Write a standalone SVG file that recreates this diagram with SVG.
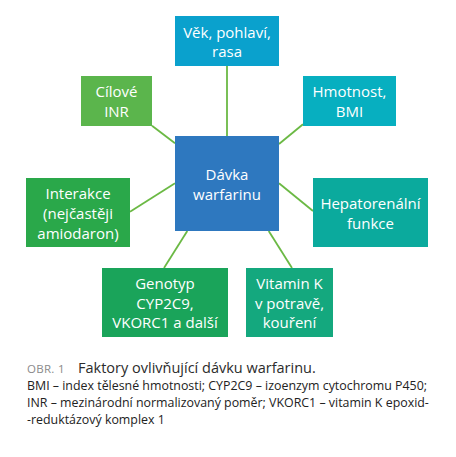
<svg xmlns="http://www.w3.org/2000/svg" width="456" height="457" viewBox="0 0 456 457">
<style>
.n text{font-family:"Open Sans","Noto Sans",sans-serif;font-size:15px;fill:#fff;text-anchor:middle}
.c line{stroke:#6bb944;stroke-width:1.8}
.cap{font-family:"Open Sans","Noto Sans",sans-serif}
</style>
<rect width="456" height="457" fill="#fff"/>
<g class="c" id="connectors">
<line x1="227" y1="66" x2="227" y2="136"/>
<line x1="152" y1="125.7" x2="175" y2="143.3"/>
<line x1="303" y1="124.3" x2="279" y2="144"/>
<line x1="130" y1="211.7" x2="175" y2="183.3"/>
<line x1="279" y1="183.3" x2="313" y2="211"/>
<line x1="187.3" y1="231" x2="164" y2="268"/>
<line x1="268.7" y1="231" x2="292" y2="268"/>
</g>
<g class="n" id="vek"><rect x="175" y="16" width="104" height="50" fill="#0aa1cd"/><text x="227" y="38">Věk, pohlaví,</text><text x="227" y="57">rasa</text></g>
<g class="n" id="cilove"><rect x="81" y="76" width="71" height="50" fill="#5bb54c"/><text x="116.5" y="97">Cílové</text><text x="116.5" y="117">INR</text></g>
<g class="n" id="hmotnost"><rect x="303" y="76" width="93" height="50" fill="#07afc0"/><text x="349.5" y="97">Hmotnost,</text><text x="349.5" y="117">BMI</text></g>
<g class="n" id="davka"><rect x="175" y="136" width="104" height="95" fill="#2e78bf"/><text x="227" y="180">Dávka</text><text x="227" y="199.5">warfarinu</text></g>
<g class="n" id="interakce"><rect x="26" y="178" width="104" height="69" fill="#2aa84a"/><text x="78" y="199">Interakce</text><text x="78" y="219">(nejčastěji</text><text x="78" y="239">amiodaron)</text></g>
<g class="n" id="hepato"><rect x="313" y="178" width="115" height="69" fill="#0baa9d"/><text x="370.5" y="209">Hepatorenální</text><text x="370.5" y="229">funkce</text></g>
<g class="n" id="genotyp"><rect x="102" y="268" width="126" height="69" fill="#1aa45a"/><text x="165" y="289">Genotyp</text><text x="165" y="309">CYP2C9,</text><text x="165" y="328">VKORC1 a další</text></g>
<g class="n" id="vitamin"><rect x="246" y="268" width="87" height="69" fill="#14a87e"/><text x="289.5" y="289">Vitamin K</text><text x="289.5" y="309">v potravě,</text><text x="289.5" y="328">kouření</text></g>
<g class="cap">
<text x="27" y="373" font-size="11.5" fill="#8a8a8a" letter-spacing="0.3">OBR. 1</text>
<text x="78" y="373" font-size="14.5" fill="#2b2b2b">Faktory ovlivňující dávku warfarinu.</text>
<text font-size="12.4" fill="#222"><tspan x="27" y="390">BMI – index tělesné hmotnosti; CYP2C9 – izoenzym cytochromu P450;</tspan><tspan x="27" y="407">INR – mezinárodní normalizovaný poměr; VKORC1 – vitamin K epoxid-</tspan><tspan x="27" y="424">-reduktázový komplex 1</tspan></text>
</g>
</svg>
